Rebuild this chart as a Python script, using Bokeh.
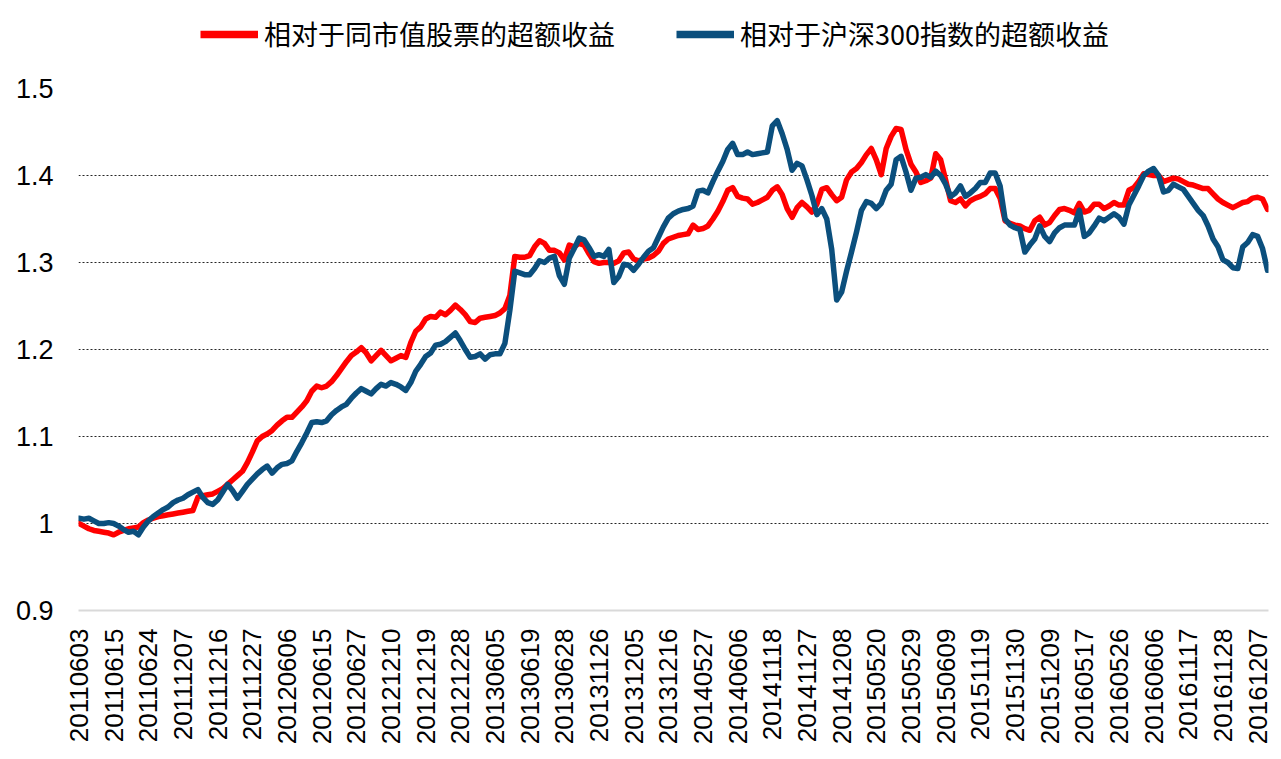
import numpy as np
from bokeh.plotting import figure
from bokeh.layouts import column
from bokeh.models import Legend, LegendItem, FixedTicker, NumeralTickFormatter, Range1d, ColumnDataSource
from bokeh.embed import file_html
from bokeh.resources import INLINE

tick_labels = [
    "20110603", "20110615", "20110624", "20111207", "20111216", "20111227",
    "20120606", "20120615", "20120627", "20121210", "20121219", "20121228",
    "20130605", "20130619", "20130628", "20131126", "20131205", "20131216",
    "20140527", "20140606", "20141118", "20141127", "20141208", "20150520",
    "20150529", "20150609", "20151119", "20151130", "20151209", "20160517",
    "20160526", "20160606", "20161117", "20161128", "20161207",
]

series_names = ["相对于同市值股票的超额收益", "相对于沪深300指数的超额收益"]

red_vals = [
    1.000, 0.997, 0.994, 0.992, 0.991, 0.990, 0.989, 0.987, 0.990, 0.992,
    0.994, 0.995, 0.996, 1.001, 1.004, 1.006, 1.008, 1.009, 1.010, 1.011,
    1.012, 1.013, 1.014, 1.015, 1.030,
    1.032, 1.033, 1.034, 1.037, 1.040, 1.045,
    1.050, 1.055, 1.060, 1.070, 1.082, 1.095, 1.100, 1.103, 1.107, 1.113,
    1.118, 1.122, 1.122, 1.128, 1.134, 1.141, 1.152, 1.158, 1.156, 1.158,
    1.163, 1.170, 1.178, 1.186, 1.193, 1.197,
    1.202, 1.196, 1.187, 1.193, 1.199,
    1.193, 1.187, 1.190, 1.193, 1.191, 1.208, 1.221, 1.226, 1.235, 1.238,
    1.237, 1.243, 1.240, 1.245, 1.251, 1.246, 1.240, 1.232, 1.231, 1.236,
    1.237, 1.238, 1.239, 1.242, 1.247, 1.262, 1.307, 1.306,
    1.306, 1.308, 1.318,
    1.325, 1.322, 1.314, 1.314, 1.311, 1.303, 1.320, 1.318, 1.322, 1.320,
    1.310, 1.301, 1.299, 1.300, 1.300, 1.299, 1.302, 1.311, 1.312, 1.304,
    1.302, 1.304, 1.305, 1.308, 1.313, 1.322, 1.327, 1.329, 1.331, 1.332,
    1.333,
    1.343, 1.338, 1.339, 1.342, 1.350, 1.359, 1.370, 1.383, 1.386, 1.376,
    1.374, 1.373, 1.367, 1.369, 1.372, 1.375, 1.383, 1.387, 1.378, 1.362, 1.352,
    1.363, 1.369, 1.364, 1.358, 1.367, 1.384, 1.386, 1.378, 1.371, 1.375,
    1.395, 1.404,
    1.408, 1.415, 1.424, 1.431, 1.418, 1.401, 1.431, 1.445, 1.454,
    1.453, 1.430, 1.413, 1.404, 1.392, 1.394, 1.397, 1.425, 1.418, 1.395,
    1.371, 1.369, 1.373, 1.365, 1.371, 1.374, 1.376, 1.379, 1.385, 1.385,
    1.374, 1.348, 1.345, 1.343,
    1.342, 1.339, 1.337, 1.348, 1.352, 1.343, 1.346,
    1.354, 1.361, 1.362, 1.360, 1.357, 1.368, 1.358, 1.360, 1.367, 1.367,
    1.362, 1.365, 1.369, 1.366, 1.366, 1.383, 1.386, 1.393, 1.402, 1.401,
    1.400, 1.400, 1.393, 1.395, 1.397, 1.396,
    1.393, 1.390, 1.389, 1.387, 1.385,
    1.385, 1.379, 1.373, 1.369, 1.366, 1.363, 1.366, 1.369, 1.370, 1.374,
    1.375, 1.373, 1.361,
]

blue_vals = [
    1.006, 1.005, 1.006, 1.003, 1.000, 1.000, 1.001, 1.000, 0.997, 0.993,
    0.990, 0.991, 0.987, 0.996, 1.003, 1.008, 1.012, 1.016, 1.019, 1.024,
    1.027, 1.029, 1.033, 1.036, 1.039,
    1.030, 1.024, 1.022, 1.027, 1.036, 1.045,
    1.038, 1.029, 1.037, 1.045, 1.051, 1.057, 1.062, 1.066, 1.058, 1.064,
    1.068, 1.069, 1.072, 1.083, 1.093, 1.104, 1.116, 1.117, 1.116, 1.118,
    1.125, 1.130, 1.134, 1.137, 1.144, 1.150,
    1.155, 1.152, 1.149, 1.155, 1.160,
    1.158, 1.162, 1.160, 1.157, 1.153, 1.162, 1.175, 1.183, 1.192, 1.196,
    1.205, 1.206, 1.209, 1.214, 1.219, 1.210, 1.200, 1.191, 1.192, 1.195,
    1.189, 1.194, 1.195, 1.195, 1.207, 1.245, 1.290, 1.288,
    1.286, 1.286, 1.293,
    1.302, 1.300, 1.305, 1.307, 1.285, 1.275, 1.305, 1.316, 1.328, 1.326,
    1.317, 1.307, 1.309, 1.307, 1.315, 1.277, 1.284, 1.298, 1.297, 1.291,
    1.298, 1.306, 1.313, 1.317, 1.329, 1.341, 1.351, 1.356, 1.359, 1.361,
    1.362,
    1.365, 1.382, 1.383, 1.380, 1.393, 1.405, 1.416, 1.430, 1.437, 1.424,
    1.424, 1.427, 1.424, 1.425, 1.426, 1.427, 1.457, 1.463, 1.448, 1.430, 1.406,
    1.414, 1.411, 1.395, 1.377, 1.355, 1.362, 1.350, 1.315, 1.257, 1.266,
    1.290, 1.312,
    1.335, 1.360, 1.370, 1.368, 1.362, 1.368, 1.383, 1.390, 1.418,
    1.422, 1.404, 1.383, 1.397, 1.398, 1.401, 1.398, 1.405, 1.400, 1.390,
    1.376, 1.380, 1.388, 1.376, 1.380, 1.385, 1.392, 1.392, 1.403, 1.403,
    1.388, 1.350, 1.343, 1.340,
    1.338, 1.312, 1.320, 1.327, 1.342, 1.330, 1.324,
    1.334, 1.340, 1.343, 1.343, 1.343, 1.360, 1.330, 1.334, 1.342, 1.351,
    1.348, 1.352, 1.356, 1.352, 1.344, 1.366, 1.377, 1.388, 1.400, 1.405,
    1.408, 1.400, 1.381, 1.383, 1.390, 1.387,
    1.384, 1.376, 1.368, 1.360, 1.354,
    1.342, 1.327, 1.318, 1.303, 1.300, 1.294, 1.293, 1.318, 1.323, 1.332,
    1.330, 1.316, 1.291,
]

y_ticks = [0.9, 1.0, 1.1, 1.2, 1.3, 1.4, 1.5]
label_step = 7

RED = "#ff0000"
BLUE = "#0b4f7d"

n = len(red_vals)
idx = list(range(n))
src = ColumnDataSource(dict(x=idx, red=red_vals, blue=blue_vals))
tick_pos = [i * label_step for i in range(len(tick_labels))]

W = 1276
LEG_H = 70
H = 685
BL, BR, BT, BB = 78, W - 1268, 18, 145

# ---- legend strip (top) ----
lg = figure(width=W, height=LEG_H, output_backend="svg", toolbar_location=None,
            x_axis_type=None, y_axis_type=None,
            x_range=Range1d(0, 1), y_range=Range1d(0, 1),
            min_border_left=0, min_border_right=0, min_border_top=0, min_border_bottom=0)
lg.outline_line_color = None
lg.xgrid.grid_line_color = None
lg.ygrid.grid_line_color = None
# legend-only swatch renderers: their single point lies outside the visible range
swatch = ColumnDataSource(dict(x=[-10, -10], y=[-10, -10]))
l1 = lg.line("x", "y", source=swatch, line_color=RED, line_width=7.5)
l2 = lg.line("x", "y", source=swatch, line_color=BLUE, line_width=7.5)
legend = Legend(items=[LegendItem(label=series_names[0], renderers=[l1]),
                       LegendItem(label=series_names[1], renderers=[l2])],
                orientation="horizontal", location=(122, 17))
legend.label_text_font = "Noto Sans CJK SC"
legend.label_text_font_size = "27px"
legend.label_text_color = "black"
legend.glyph_width = 58
legend.glyph_height = 36
legend.label_height = 36
legend.spacing = 61
legend.label_standoff = 6
legend.border_line_color = None
legend.background_fill_alpha = 0
legend.padding = 0
legend.margin = 0
lg.add_layout(legend, "center")

# ---- main chart ----
p = figure(width=W, height=H, output_backend="svg", toolbar_location=None,
           x_range=Range1d(-0.1, n - 0.8), y_range=Range1d(y_ticks[0], y_ticks[-1]),
           min_border_left=BL, min_border_right=BR, min_border_top=BT,
           min_border_bottom=BB)
p.outline_line_color = None
p.background_fill_color = "white"

p.line("x", "red", source=src, line_color=RED, line_width=5.5,
       line_join="round", line_cap="round")
p.line("x", "blue", source=src, line_color=BLUE, line_width=5.5,
       line_join="round", line_cap="round")

xa = p.xaxis[0]
xa.ticker = FixedTicker(ticks=tick_pos)
xa.major_label_overrides = {t: lab for t, lab in zip(tick_pos, tick_labels)}
xa.major_label_orientation = np.pi / 2
xa.major_label_text_font = "Liberation Sans"
xa.major_label_text_font_size = "26px"
xa.major_label_text_color = "black"
xa.major_label_standoff = 12
xa.axis_line_color = "#d9d9d9"
xa.axis_line_width = 2
xa.major_tick_line_color = None
xa.minor_tick_line_color = None

ya = p.yaxis[0]
ya.ticker = FixedTicker(ticks=y_ticks)
ya.formatter = NumeralTickFormatter(format="0.[0]")
ya.major_label_text_font = "Liberation Sans"
ya.major_label_text_font_size = "27px"
ya.major_label_text_color = "black"
ya.major_label_standoff = 19
ya.axis_line_color = None
ya.major_tick_line_color = None
ya.minor_tick_line_color = None

p.xgrid.grid_line_color = None
p.ygrid.ticker = FixedTicker(ticks=y_ticks[1:])
p.ygrid.grid_line_color = "black"
p.ygrid.grid_line_dash = "2 2"
p.ygrid.grid_line_width = 1
p.ygrid.grid_line_alpha = 0.85

layout = column(lg, p, spacing=0)
open("out.html", "w").write(file_html(layout, INLINE))
